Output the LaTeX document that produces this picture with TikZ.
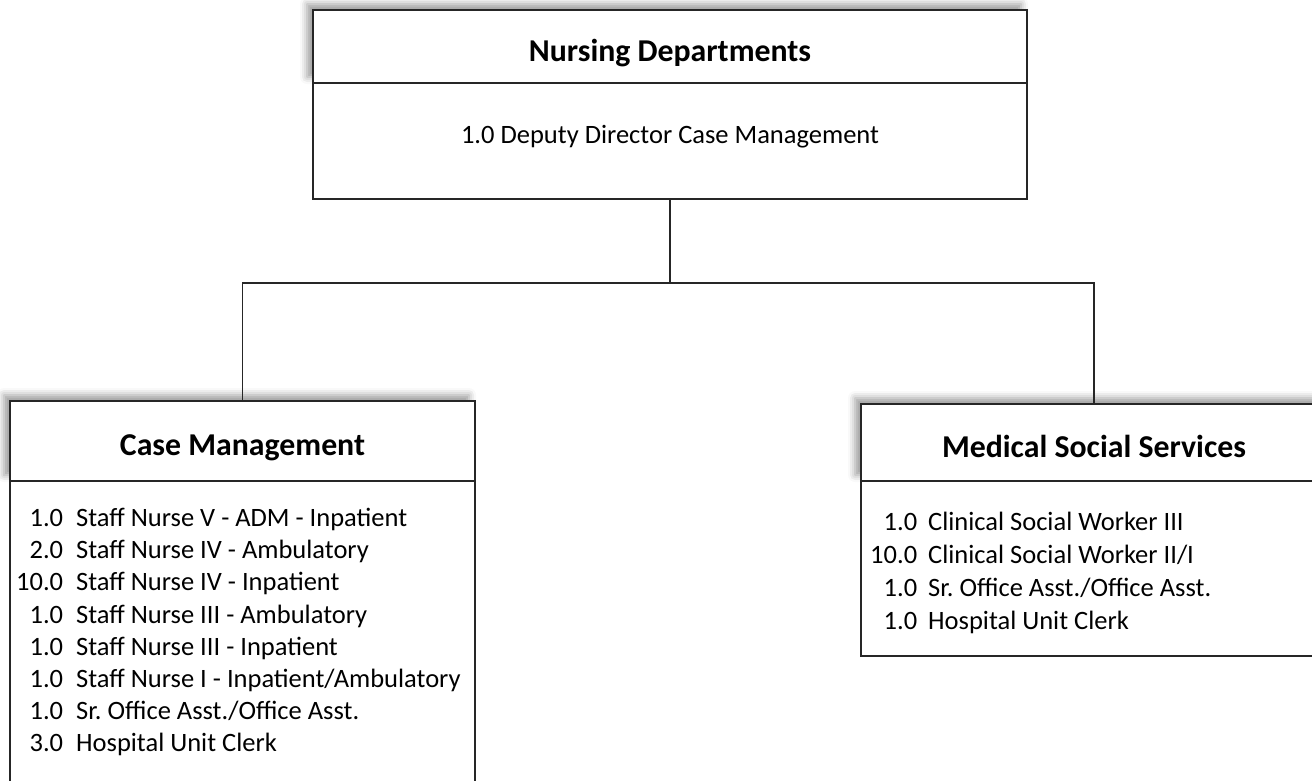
\documentclass[tikz,border=0pt]{standalone}
\usepackage{fontspec}
\setmainfont{Carlito}
\frenchspacing
\usepackage{tikz}
\usetikzlibrary{positioning, shadows.blur}

\begin{document}
\begin{tikzpicture}[
    x=1pt, y=-1pt,
    node distance=0pt,
    box/.style={rectangle, draw=black!85, line width=1.6pt, fill=white, inner sep=0pt, outer sep=0pt, align=center},
    head/.style={box, font=\fontsize{31.8}{38}\selectfont\bfseries, text height=29.5pt, text depth=0pt,
        blur shadow={shadow xshift=-6pt, shadow yshift=6pt, shadow blur radius=7pt}},
    body/.style={box, font=\fontsize{26.5}{32}\selectfont},
    list/.style={inner sep=0pt, anchor=base west, font=\fontsize{26.5}{#1}\selectfont},
    conn/.style={draw=black!85, line width=1.6pt},
]
    \useasboundingbox (0,0) rectangle (1312,780);
    \clip (0,0) rectangle (1312,780);

    % Nursing Departments
    \node[head, minimum width=714pt, minimum height=73pt, anchor=north west] (nd) at (313,10) {Nursing Departments};
    \node[body, minimum width=714pt, minimum height=116pt, text height=17pt, text depth=13pt, below=0pt of nd] (ndbody) {1.0 Deputy Director Case Management};

    % Case Management
    \node[head, minimum width=465pt, minimum height=80pt, anchor=north west] (cm) at (10,401) {Case Management};
    \node[body, minimum width=465pt, minimum height=330pt, below=0pt of cm] (cmbody) {};
    \node[list=32.2] (cmlist) at (16,526.5) {\begin{tabular}[t]{@{}r@{\hspace{13pt}}l@{}}
        1.0 & Staff Nurse V - ADM - Inpatient\\
        2.0 & Staff Nurse IV - Ambulatory\\
        10.0 & Staff Nurse IV - Inpatient\\
        1.0 & Staff Nurse III - Ambulatory\\
        1.0 & Staff Nurse III - Inpatient\\
        1.0 & Staff Nurse I - Inpatient/Ambulatory\\
        1.0 & Sr. Office Asst./Office Asst.\\
        3.0 & Hospital Unit Clerk
    \end{tabular}};

    % Medical Social Services
    \node[head, minimum width=466pt, minimum height=77pt, anchor=north west] (mss) at (861,404) {Medical Social Services};
    \node[body, minimum width=466pt, minimum height=175pt, below=0pt of mss] (mssbody) {};
    \node[list=33] (msslist) at (870,530.5) {\begin{tabular}[t]{@{}r@{\hspace{11pt}}l@{}}
        1.0 & Clinical Social Worker III\\
        10.0 & Clinical Social Worker II/I\\
        1.0 & Sr. Office Asst./Office Asst.\\
        1.0 & Hospital Unit Clerk
    \end{tabular}};

    % Connectors
    \draw[conn] (ndbody.south) -- ++(0,84) coordinate (split) -| (cm.north);
    \draw[conn] (split) -| (mss.north);

\end{tikzpicture}
\end{document}
